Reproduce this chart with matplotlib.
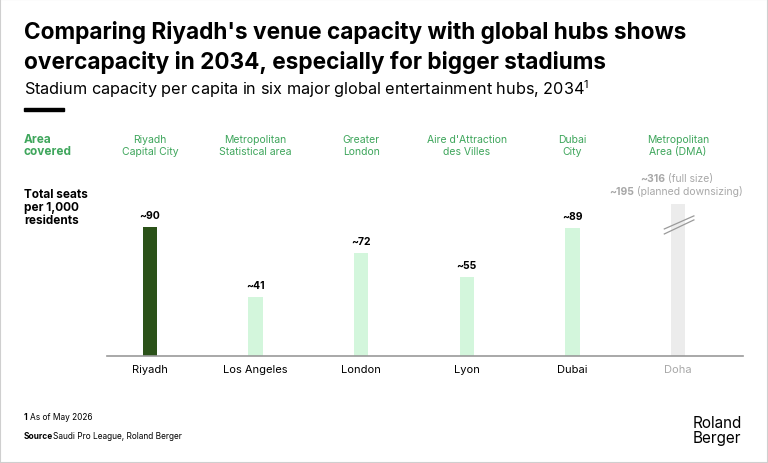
import matplotlib.pyplot as plt
from matplotlib.patches import Rectangle
from matplotlib.lines import Line2D

plt.rcParams['font.family'] = ['Inter', 'DejaVu Sans']
plt.rcParams['mathtext.fontset'] = 'custom'
plt.rcParams['mathtext.rm'] = 'Inter'
plt.rcParams['mathtext.it'] = 'Inter'

cities = ["Riyadh", "Los Angeles", "London", "Lyon", "Dubai", "Doha"]
areas = ["Riyadh\nCapital City", "Metropolitan\nStatistical area", "Greater\nLondon",
         "Aire d'Attraction\ndes Villes", "Dubai\nCity", "Metropolitan\nArea (DMA)"]
seats = [90, 41, 72, 55, 89, 316]
labels = ["~90", "~41", "~72", "~55", "~89", ""]
doha_full = 316
doha_down = 195

dark = "#2b5219"
light = "#d3f6dc"
grey_bar = "#ececec"
green_txt = "#3fa65c"
grey_txt = "#a8a8a8"
bar_colors = [dark, light, light, light, light, grey_bar]

fig = plt.figure(figsize=(7.68, 4.64), dpi=100)
W, H = 768, 464

def fx(px):
    return px / W

def fy(py):
    return 1 - py / H

# frame
fig.patches.append(Rectangle((0, 0), 1, 1, transform=fig.transFigure, fill=False,
                             edgecolor="#cfcfcf", lw=1.5))

# titles
fig.text(fx(24), fy(33), "Comparing Riyadh's venue capacity with global hubs shows",
         fontsize=16.3, fontweight="bold", va="center", ha="left")
fig.text(fx(24), fy(62), "overcapacity in 2034, especially for bigger stadiums",
         fontsize=16.3, fontweight="bold", va="center", ha="left")
fig.text(fx(24), fy(89), "Stadium capacity per capita in six major global entertainment hubs, 2034$^{1}$",
         fontsize=11.7, va="center", ha="left")
fig.patches.append(Rectangle((fx(24), fy(112)), fx(40), 3.5 / H, transform=fig.transFigure,
                             color="black"))

fig.text(fx(24), fy(146), "Area\ncovered", fontsize=8.5, fontweight="bold", color=green_txt,
         va="center", ha="left", linespacing=1.1)
fig.text(fx(24), fy(208), "Total seats\nper 1,000\nresidents", fontsize=8.5, fontweight="bold",
         va="center", ha="left", linespacing=1.1)

ax = fig.add_axes([fx(107), fy(357), fx(636), 152 / H])
x = list(range(len(cities)))
ax.bar(x, seats, width=0.135, color=bar_colors, zorder=2)
ax.set_xlim(-0.407, 5.615)
ax.set_ylim(0, 106)
for s in ["top", "right", "left"]:
    ax.spines[s].set_visible(False)
ax.spines["bottom"].set_color("#999999")
ax.spines["bottom"].set_linewidth(1.2)
ax.set_yticks([])
ax.set_xticks(x)
ax.set_xticklabels(cities, fontsize=8)
ax.tick_params(axis="x", length=0, pad=6)
ax.get_xticklabels()[-1].set_color(grey_txt)

for i, (v, lab) in enumerate(zip(seats, labels)):
    if lab:
        ax.annotate(lab, (i, v), xytext=(0, 5), textcoords="offset points",
                    ha="center", va="bottom", fontsize=7.5, fontweight="bold")

# area headers
for i, a in enumerate(areas):
    ax.annotate(a, (i, 1), xycoords=("data", "axes fraction"), xytext=(0, 357 - 146 - 152),
                textcoords="offset pixels", ha="center", va="center", fontsize=7.5,
                color=green_txt, linespacing=1.2)

# Doha break marks
for y0, y1 in ((88.6, 97.7), (85.1, 94.9)):
    ax.add_line(Line2D([4.87, 5.15], [y0, y1], color="#9a9a9a", lw=0.9, zorder=3))

# Doha annotations
ax.annotate(f"~{doha_full}", (5, 106), xytext=(-13, 26), textcoords="offset pixels",
            ha="right", va="center", fontsize=7.5, fontweight="bold", color=grey_txt,
            annotation_clip=False)
ax.annotate(" (full size)", (5, 106), xytext=(-13, 26), textcoords="offset pixels",
            ha="left", va="center", fontsize=7.5, color=grey_txt, annotation_clip=False)
ax.annotate(f"~{doha_down}", (5, 106), xytext=(-44, 13), textcoords="offset pixels",
            ha="right", va="center", fontsize=7.5, fontweight="bold", color=grey_txt,
            annotation_clip=False)
ax.annotate(" (planned downsizing)", (5, 106), xytext=(-44, 13), textcoords="offset pixels",
            ha="left", va="center", fontsize=7.5, color=grey_txt, annotation_clip=False)

# footer
fig.text(fx(24), fy(418), "1", fontsize=6, fontweight="bold", va="center", ha="left")
fig.text(fx(30), fy(418), "As of May 2026", fontsize=6, va="center", ha="left")
fig.text(fx(24), fy(437), "Source", fontsize=6, fontweight="bold", va="center", ha="left")
fig.text(fx(53), fy(437), "Saudi Pro League, Roland Berger", fontsize=6, va="center", ha="left")
fig.text(fx(693), fy(431), "Roland\nBerger", fontsize=11, va="center", ha="left", linespacing=1.0)

fig.savefig("out.png", dpi=100)
